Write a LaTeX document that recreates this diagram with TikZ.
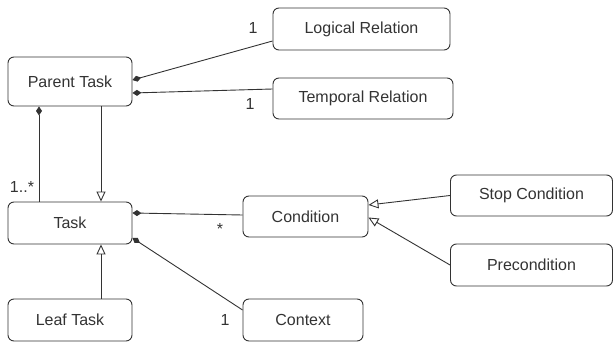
\documentclass[tikz,border=0pt]{standalone}
\usepackage{fontspec}
\setmainfont{Liberation Sans}
\usepackage{tikz}
\usetikzlibrary{
  % enables open triangles and diamonds
  arrows.meta,%
  positioning,%
  calc
}
\definecolor{umlgray}{rgb}{0.2,0.2,0.2}
\tikzset{>=latex}
\tikzset{font=\fontsize{16}{19}\selectfont}
\tikzset{class/.style={draw=umlgray, text=umlgray, rounded corners=6pt, line width=0.9pt,
    minimum height=42pt, inner sep=0pt}}
\tikzset{comp/.style={{Diamond[length=9pt,width=6pt]}-, umlgray, line width=0.9pt}}
\tikzset{inh/.style={-{Triangle[open,length=10pt,width=9pt]}, umlgray, line width=0.9pt}}
\tikzset{mult/.style={text=umlgray, inner sep=0pt}}

\begin{document}
\begin{tikzpicture}[x=1pt,y=-1pt]
          \useasboundingbox (0,0) rectangle (614,342);
          % classes
          \node[class, minimum width=124pt, minimum height=49pt] (ptask) at (70,81.5) {Parent Task};
          \node[class, minimum width=124pt] (task) at (70,223) {Task};
          \node[class, minimum width=124pt] (leaf) at (70,320) {Leaf Task};
          \node[class, minimum width=177pt] (logical) at (361.5,29) {Logical Relation};
          \node[class, minimum width=180pt, minimum height=41pt] (temporal) at (363,98.5) {Temporal Relation};
          \node[class, minimum width=125pt, minimum height=41pt] (cond) at (305.5,216.5) {Condition};
          \node[class, minimum width=120pt] (context) at (303,320) {Context};
          \node[class, minimum width=162pt, minimum height=41pt] (stopc) at (531.5,195.5) {Stop Condition};
          \node[class, minimum width=162pt] (precond) at (531.5,265) {Precondition};
          % compositions
          \draw[comp] ([yshift=1.5pt]ptask.east) -- ([yshift=-12pt]logical.west);
          \draw[comp] ([yshift=-11.5pt]ptask.east) -- ([yshift=9.5pt]temporal.west);
          \draw[comp] ([xshift=-31pt]ptask.south) -- ([xshift=-31pt]task.north);
          \draw[comp] ([yshift=10pt]task.east) -- ([yshift=1.5pt]cond.west);
          \draw[comp] ([yshift=-15pt]task.east) -- ([yshift=10pt]context.west);
          % generalisations
          \draw[inh] ([xshift=31pt]ptask.south) -- ([xshift=31pt]task.north);
          \draw[inh] ([xshift=31pt]leaf.north) -- ([xshift=31pt]task.south);
          \draw[inh] (stopc.west) -- ([yshift=11.5pt]cond.east);
          \draw[inh] (precond.west) -- ([yshift=-1pt]cond.east);
          % multiplicities
          \node[mult] (m1) at (253,28) {1};
          \node[mult] (m2) at (250,104) {1};
          \node[mult] (m3) at (22,187) {1..*};
          \node[mult] (m4) at (220,229) {*};
          \node[mult] (m5) at (225,320) {1};
        \end{tikzpicture}
\end{document}
